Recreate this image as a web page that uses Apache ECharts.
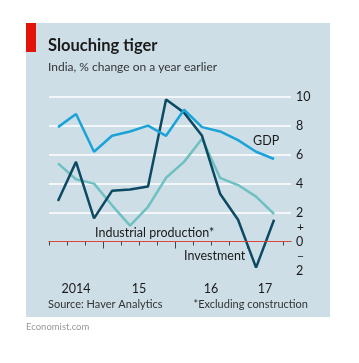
<!DOCTYPE html>
<html>
<head>
<meta charset="utf-8">
<script src="https://cdn.jsdelivr.net/npm/echarts@6/dist/echarts.min.js"></script>
<style>html,body{margin:0;padding:0;background:#fff;}#c{width:359px;height:363px;}</style>
</head>
<body>
<div id="c"></div>
<script>
// Quarterly data, Q2 2014 .. Q2 2017
var quarters = ["2014Q2","2014Q3","2014Q4","2015Q1","2015Q2","2015Q3","2015Q4","2016Q1","2016Q2","2016Q3","2016Q4","2017Q1","2017Q2"];
var gdp        = [7.9, 8.8, 6.2, 7.3, 7.6, 8.0, 7.3, 9.1, 7.9, 7.6, 7.0, 6.2, 5.7];
var investment = [2.8, 5.5, 1.6, 3.5, 3.6, 3.8, 9.8, 8.9, 7.3, 3.3, 1.5, -1.8, 1.5];
var industrial = [5.4, 4.3, 4.0, 2.5, 1.1, 2.4, 4.4, 5.5, 7.1, 4.4, 3.9, 3.1, 1.9];
var yearLabels = [{pos: 1.5, text: "2014"}, {pos: 5, text: "15"}, {pos: 9, text: "16"}, {pos: 12, text: "17"}];
var yTicks = [-2, 0, 2, 4, 6, 8, 10];

var FONT = "Lato, 'Liberation Sans', sans-serif";

function pts(arr) { return arr.map(function (v, i) { return [i + 0.5, v]; }); }
var quarterTicks = quarters.map(function (q, i) { return i; }).concat([quarters.length]);
var yearTicks = quarters.map(function (q, i) { return i; }).filter(function (i) { return quarters[i].slice(4) === "Q1"; });

var chart = echarts.init(document.getElementById('c'), null, {renderer: 'canvas'});
var xMax = 13.44;
chart.setOption({
  animation: false,
  backgroundColor: '#ffffff',
  textStyle: {fontFamily: FONT},
  grid: {left: 49, right: 68, top: 96.7, bottom: 92.5, containLabel: false},
  graphic: [
    {type: 'rect', z: -10, shape: {x: 26, y: 23, width: 304, height: 294}, style: {fill: '#cddee7'}},
    {type: 'rect', z: -9, shape: {x: 26, y: 23, width: 10, height: 29}, style: {fill: '#e3120b'}},
    {type: 'text', x: 48, y: 46, style: {text: 'Slouching tiger', font: 'bold 16.5px ' + FONT, fill: '#1a1a1a', verticalAlign: 'middle'}},
    {type: 'text', x: 48, y: 67, style: {text: 'India, % change on a year earlier', font: '12px ' + FONT, fill: '#333', verticalAlign: 'middle'}},
    {type: 'text', x: 253, y: 141, style: {text: 'GDP', font: '12.5px ' + FONT, fill: '#1a1a1a', verticalAlign: 'middle'}},
    {type: 'text', x: 95, y: 233, style: {text: 'Industrial production*', font: '12.5px ' + FONT, fill: '#1a1a1a', verticalAlign: 'middle'}},
    {type: 'text', x: 184, y: 256, style: {text: 'Investment', font: '12.5px ' + FONT, fill: '#1a1a1a', verticalAlign: 'middle'}},
    {type: 'text', x: 48, y: 304, style: {text: 'Source: Haver Analytics', font: '11px ' + FONT, fill: '#333', verticalAlign: 'middle'}},
    {type: 'text', x: 308, y: 304, style: {text: '*Excluding construction', font: '11px ' + FONT, fill: '#333', verticalAlign: 'middle', align: 'right'}},
    {type: 'text', x: 26, y: 327, style: {text: 'Economist.com', font: '9.5px ' + FONT, fill: '#999', verticalAlign: 'middle'}}
  ],
  xAxis: [
    {type: 'value', min: 0, max: xMax, position: 'bottom',
     axisLine: {show: true, lineStyle: {color: '#444', width: 1}},
     axisTick: {show: true, customValues: quarterTicks, length: 4, lineStyle: {color: '#444', width: 1}},
     axisLabel: {show: false}, splitLine: {show: false}},
    {type: 'value', min: 0, max: xMax, position: 'bottom',
     axisLine: {show: false},
     axisTick: {show: true, customValues: yearTicks, length: 7, lineStyle: {color: '#444', width: 1}},
     axisLabel: {show: true, customValues: yearLabels.map(function (d) { return d.pos; }), margin: 12,
       fontSize: 12.5, color: '#1a1a1a', fontFamily: FONT,
       formatter: function (v) { for (var i = 0; i < yearLabels.length; i++) { if (Math.abs(yearLabels[i].pos - v) < 1e-6) return yearLabels[i].text; } return ''; }},
     splitLine: {show: false}}
  ],
  yAxis: [
    {type: 'value', min: yTicks[0], max: yTicks[yTicks.length - 1], interval: 2, position: 'right',
     axisLine: {show: false}, axisTick: {show: false},
     axisLabel: {margin: 5, fontSize: 12.5, color: '#1a1a1a', fontFamily: FONT,
       formatter: function (v) { return String(Math.abs(v)); }},
     splitLine: {show: true, lineStyle: {color: ['rgba(0,0,0,0)', 'rgba(0,0,0,0)', '#fff', '#fff', '#fff', '#fff', '#fff'], width: 1.5}}},
    {type: 'value', min: yTicks[0], max: yTicks[yTicks.length - 1], position: 'right',
     axisLine: {show: false}, axisTick: {show: false}, splitLine: {show: false},
     axisLabel: {customValues: [1, -1], margin: 6, fontSize: 12, color: '#1a1a1a', fontFamily: FONT,
       formatter: function (v) { return v > 0 ? '+' : '\u2212'; }}}
  ],
  series: [
    {name: 'Industrial production', type: 'line', data: pts(industrial), xAxisIndex: 0, yAxisIndex: 0, z: 2,
     symbol: 'none', lineStyle: {color: '#6fc0c0', width: 2.5}, itemStyle: {color: '#6fc0c0'},
     markLine: {silent: true, symbol: 'none', label: {show: false}, lineStyle: {color: '#d9483b', width: 1, type: 'solid'},
       data: [{yAxis: 0}]}},
    {name: 'Investment', type: 'line', data: pts(investment), xAxisIndex: 0, yAxisIndex: 0, z: 3,
     symbol: 'none', lineStyle: {color: '#0c4a63', width: 2.5}, itemStyle: {color: '#0c4a63'}},
    {name: 'GDP', type: 'line', data: pts(gdp), xAxisIndex: 0, yAxisIndex: 0, z: 4,
     symbol: 'none', lineStyle: {color: '#1ba3d9', width: 2.5}, itemStyle: {color: '#1ba3d9'}}
  ]
});
</script>
</body>
</html>
